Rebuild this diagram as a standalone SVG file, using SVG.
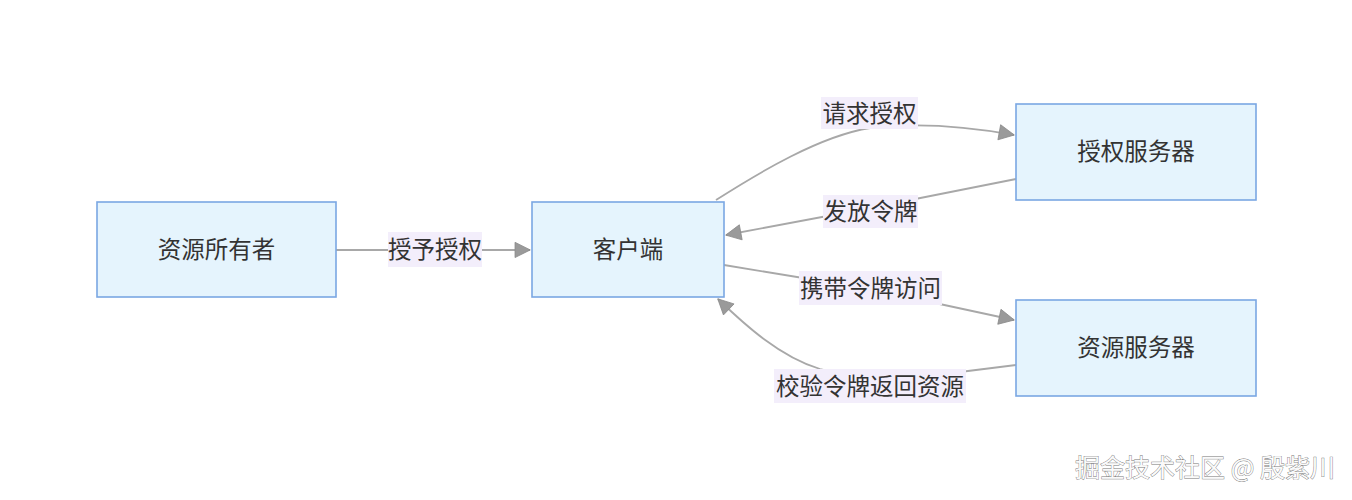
<svg xmlns="http://www.w3.org/2000/svg" width="1352" height="500" viewBox="0 0 1352 500">
<defs>
<style>
.node rect{fill:#e5f4fd;stroke:#7aa7e3;stroke-width:1.6}
.node text{font-family:"Noto Sans CJK SC","Noto Sans",sans-serif;font-size:23.5px;fill:#333;text-anchor:middle;dominant-baseline:central}
.edge{fill:none;stroke:#a8a8a8;stroke-width:1.8}
.lbl rect{fill:#f3eefb}
.lbl text{font-family:"Noto Sans CJK SC","Noto Sans",sans-serif;font-size:23.5px;fill:#333;text-anchor:middle;dominant-baseline:central}
.wm{font-family:"Noto Sans CJK SC","Noto Sans",sans-serif;font-size:25px;fill:#fafafa;stroke:#777;stroke-width:0.8;paint-order:stroke}
</style>
<marker id="arr" viewBox="0 0 10 10" refX="9" refY="5" markerWidth="9" markerHeight="9" markerUnits="userSpaceOnUse" orient="auto" overflow="visible">
<path d="M0,0 L10,5 L0,10 Z" fill="#9a9a9a" stroke="#8a8a8a" stroke-width="0.5" stroke-linejoin="round" transform="scale(1.7) translate(-4.5,-2.1)"/>
</marker>
</defs>
<g id="connectors">
<path class="edge" d="M336,250 L530,250" marker-end="url(#arr)"/>
<path class="edge" d="M716,200 C760,172 820,136 870,128 C920,122 970,127 1014,135" marker-end="url(#arr)"/>
<path class="edge" d="M1016,179 L870,208 L726,235" marker-end="url(#arr)"/>
<path class="edge" d="M724,265 L870,289 L1014,320" marker-end="url(#arr)"/>
<path class="edge" d="M1016,365 L960,372 C900,379 860,379 820,369 C780,357 745,325 718,299" marker-end="url(#arr)"/>
</g>
<g id="edge-labels">
<g class="lbl"><rect x="388" y="232" width="94" height="35"/><text x="435" y="248">授予授权</text></g>
<g class="lbl"><rect x="821" y="97" width="97" height="32"/><text x="869.5" y="111.5">请求授权</text></g>
<g class="lbl"><rect x="823" y="195" width="95" height="33"/><text x="870.5" y="210">发放令牌</text></g>
<g class="lbl"><rect x="799" y="271" width="143" height="34"/><text x="870.5" y="286.5">携带令牌访问</text></g>
<g class="lbl"><rect x="774" y="369" width="192" height="34"/><text x="870" y="384.5">校验令牌返回资源</text></g>
</g>
<g id="owner" class="node"><rect x="97" y="202" width="239" height="95"/><text x="216.5" y="248">资源所有者</text></g>
<g id="client" class="node"><rect x="532" y="202" width="192" height="95"/><text x="628" y="248">客户端</text></g>
<g id="authserver" class="node"><rect x="1016" y="104" width="240" height="96"/><text x="1136" y="150">授权服务器</text></g>
<g id="resserver" class="node"><rect x="1016" y="300" width="240" height="96"/><text x="1136" y="346">资源服务器</text></g>
<text class="wm" x="1075" y="477" textLength="260">掘金技术社区 @ 殷紫川</text>
</svg>
